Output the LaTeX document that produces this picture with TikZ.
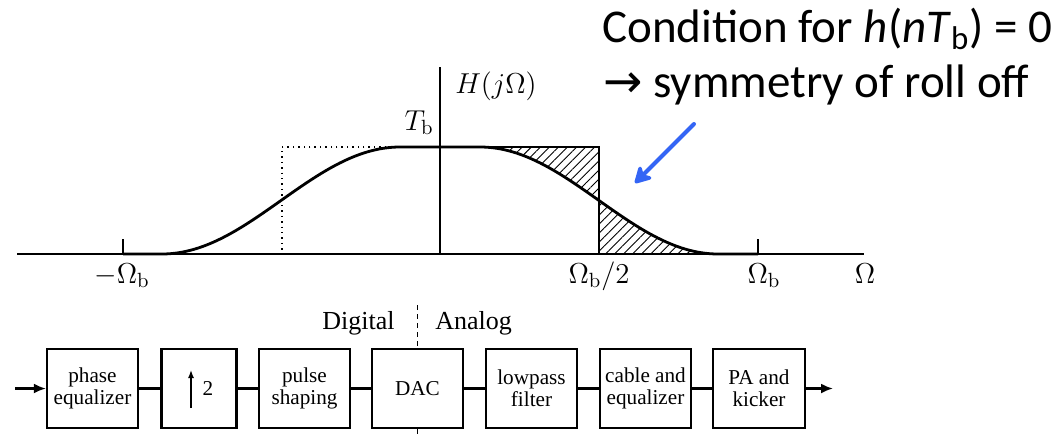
\documentclass[tikz,border=0pt]{standalone}
\usepackage{fontspec}
\newfontfamily\serifbox{Liberation Serif}
\newfontfamily\calib{Carlito}
\newfontfamily\dejavu{DejaVu Sans}
\usetikzlibrary{arrows.meta,patterns.meta}
\definecolor{annblue}{RGB}{52,101,245}
\begin{document}
\begin{tikzpicture}[x=0.5pt,y=-0.5pt,
  axis/.style={line width=0.7pt},
  resp/.style={line width=1.4pt, line join=round},
  hatch/.style={pattern={Lines[angle=45,distance=3.2pt,line width=0.45pt]}},
  lbl/.style={anchor=base, inner sep=0pt, font=\fontsize{14.7}{17}\selectfont},
  blk/.style={draw, line width=1.1pt, minimum width=45.5pt, minimum height=39.5pt, inner sep=0pt, align=center, font=\serifbox\fontsize{10.6}{11.2}\selectfont},
  wire/.style={line width=1.1pt},
  note/.style={anchor=base west, inner sep=0pt, font=\calib\fontsize{23.5}{28}\selectfont},
  txt/.style={inner sep=0pt, font=\serifbox\fontsize{13}{15}\selectfont},
]
\useasboundingbox (0,0) rectangle (1063,434);

% hatched areas
\fill[hatch] (599,147) -- plot[domain=159:40, samples=50, variable=\t] ({440+\t},{254-53.5*(1+cos((\t-40)/238*180))}) -- cycle;
\fill[hatch] (599,254) -- plot[domain=159:278, samples=50, variable=\t] ({440+\t},{254-53.5*(1+cos((\t-40)/238*180))}) -- cycle;

% ideal rectangle
\draw[line width=0.6pt] (440,147) -- (599,147) -- (599,254);
\draw[dotted, line width=0.7pt] (440,147) -- (282,147) -- (282,254);

% axes and ticks
\draw[axis] (17,254) -- (864,254);
\draw[axis] (440,67) -- (440,254);
\draw[axis] (123,239) -- (123,254);
\draw[axis] (758,239) -- (758,254);

% raised cosine response
\draw[resp] (123,254) -- (162,254)
  -- plot[domain=-278:-40, samples=60, variable=\t] ({440+\t},{254-53.5*(1+cos((abs(\t)-40)/238*180))})
  -- plot[domain=40:278, samples=60, variable=\t] ({440+\t},{254-53.5*(1+cos((\t-40)/238*180))})
  -- (758,254);

% labels
\node[lbl, anchor=base west] (lH) at (455,93) {$H(j\Omega)$};
\node[lbl, anchor=base east] (lT) at (434,130) {$T_{\mathrm{b}}$};
\node[lbl] (lm) at (122,283) {$-\Omega_{\mathrm{b}}$};
\node[lbl] (lh) at (599,283) {$\Omega_{\mathrm{b}}/2$};
\node[lbl] (lb) at (764,283) {$\Omega_{\mathrm{b}}$};
\node[lbl] (lO) at (865,283) {$\Omega$};

% annotation
\node[note] (c1) at (602,42) {Condition for \textit{h}(\textit{nT}\textsubscript{b}) = 0};
\node[note] (c2) at (603,97) {{\dejavu →} symmetry of roll off};
\coordinate (ba0) at (694,124);
\coordinate (ba1) at (635,183);
\draw[annblue, line width=2pt, line cap=round, -{Stealth[length=10pt,width=11pt,inset=3pt,round]}] (ba0) -- (ba1);

% block diagram
\node[blk] (b1) at (92.5,388.5) {phase\\equalizer};
\node[blk, minimum width=37.5pt] (b2) at (199,388.5) {};
\node[blk] (b3) at (304.5,388.5) {pulse\\shaping};
\node[blk] (b4) at (417.5,388.5) {DAC};
\node[blk] (b5) at (531.5,388.5) {lowpass\\filter};
\node[blk] (b6) at (645.5,388.5) {cable and\\equalizer};
\node[blk, minimum width=46pt] (b7) at (759,388.5) {PA and\\kicker};

\node[inner sep=0pt, font=\serifbox\fontsize{10.6}{11.2}\selectfont] (two) at (208,388.5) {2};
\coordinate (ua0) at (191,408);
\coordinate (ua1) at (191,370);
\draw[line width=0.7pt, -{Latex[length=4pt,width=3pt]}] (ua0) -- (ua1);

\coordinate (in) at (15,388.5);
\coordinate (out) at (833,388.5);
\draw[wire, -{Latex[length=6pt,width=5pt]}] (in) -- (b1);
\draw[wire] (b1) -- (b2);
\draw[wire] (b2) -- (b3);
\draw[wire] (b3) -- (b4);
\draw[wire] (b4) -- (b5);
\draw[wire] (b5) -- (b6);
\draw[wire] (b6) -- (b7);
\draw[wire, -{Latex[length=6pt,width=5pt]}] (b7) -- (out);

\coordinate (dtop) at (417.5,305);
\coordinate (dbot) at (417.5,434);
\draw[line width=0.9pt, dash pattern=on 2.5pt off 2pt] (dtop) -- (b4.north);
\draw[line width=0.9pt] (b4.south) -- (dbot);
\node[txt, anchor=base east] (dig) at (395,329) {Digital};
\node[txt, anchor=base west] (ana) at (435,329) {Analog};
\end{tikzpicture}
\end{document}
